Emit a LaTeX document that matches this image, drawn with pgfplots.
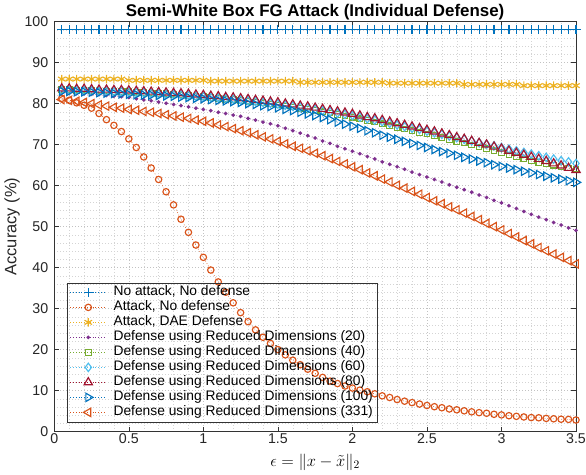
\documentclass[border=0pt]{standalone}
\usepackage{fix-cm}
\usepackage{pgfplots}
\usepackage{pgfplotstable}
\pgfplotsset{compat=1.18}
\usepackage{fontspec}
\setmainfont{Liberation Sans}
\usepackage{amsmath}

\definecolor{cA}{rgb}{0,0.447,0.741}
\definecolor{cB}{rgb}{0.85,0.325,0.098}
\definecolor{cC}{rgb}{0.929,0.694,0.125}
\definecolor{cD}{rgb}{0.494,0.184,0.556}
\definecolor{cE}{rgb}{0.466,0.674,0.188}
\definecolor{cF}{rgb}{0.301,0.745,0.933}
\definecolor{cG}{rgb}{0.635,0.078,0.184}

\pgfplotstableread{
x noatt att dae d20 d40 d60 d80 d100 d331
0.05 98.1 81.3 86.0 82.6 83.4 83.3 83.7 83.0 81.0
0.10 98.1 80.8 86.0 82.5 83.4 83.3 83.7 83.0 80.8
0.15 98.1 80.2 86.0 82.5 83.3 83.2 83.6 82.9 80.6
0.20 98.1 79.6 86.0 82.4 83.3 83.2 83.6 82.9 80.3
0.25 98.1 78.9 86.0 82.3 83.2 83.1 83.5 82.8 80.0
0.30 98.1 77.6 86.0 82.2 83.1 83.0 83.4 82.7 79.7
0.35 98.1 76.1 86.0 82.0 83.1 83.0 83.4 82.6 79.4
0.40 98.1 74.7 86.0 81.8 83.0 82.9 83.3 82.5 79.1
0.45 98.1 73.2 86.0 81.7 83.0 82.9 83.3 82.4 78.9
0.50 98.1 71.4 85.7 81.5 82.9 82.8 83.2 82.3 78.6
0.55 98.1 69.3 85.7 81.2 82.8 82.7 83.1 82.2 78.4
0.60 98.1 67.0 85.7 80.9 82.7 82.6 83.0 82.1 78.1
0.65 98.1 64.3 85.7 80.7 82.6 82.5 82.9 82.1 77.9
0.70 98.1 61.5 85.7 80.4 82.5 82.4 82.8 82.0 77.6
0.75 98.1 58.5 85.7 80.1 82.4 82.3 82.7 81.9 77.3
0.80 98.1 55.3 85.7 79.8 82.3 82.2 82.6 81.8 77.0
0.85 98.1 51.8 85.7 79.5 82.1 82.1 82.5 81.6 76.7
0.90 98.1 48.6 85.7 79.2 82.0 82.0 82.4 81.5 76.4
0.95 98.1 45.5 85.7 78.9 81.8 81.8 82.2 81.3 76.0
1.00 98.1 42.5 85.7 78.6 81.7 81.7 82.1 81.2 75.7
1.05 98.1 39.4 85.5 78.3 81.5 81.5 81.9 81.0 75.3
1.10 98.1 36.5 85.5 77.9 81.3 81.4 81.8 80.8 74.8
1.15 98.1 34.0 85.5 77.6 81.1 81.2 81.6 80.7 74.4
1.20 98.1 31.4 85.5 77.2 81.0 81.1 81.5 80.5 73.9
1.25 98.1 29.0 85.5 76.9 80.8 80.9 81.3 80.3 73.4
1.30 98.1 26.8 85.5 76.4 80.6 80.7 81.1 80.0 72.9
1.35 98.1 24.8 85.5 76.0 80.4 80.5 80.9 79.8 72.4
1.40 98.1 23.0 85.5 75.5 80.2 80.3 80.7 79.5 71.9
1.45 98.1 21.5 85.5 75.1 79.9 80.1 80.5 79.3 71.4
1.50 98.1 20.0 85.5 74.6 79.7 79.9 80.3 79.0 70.8
1.55 98.1 18.7 85.5 74.0 79.4 79.6 80.0 78.6 70.2
1.60 98.1 17.4 85.5 73.4 79.2 79.4 79.8 78.3 69.6
1.65 98.1 16.3 85.2 72.8 78.9 79.1 79.5 77.9 69.1
1.70 98.1 15.2 85.2 72.2 78.6 78.9 79.3 77.5 68.5
1.75 98.1 14.2 85.2 71.6 78.3 78.6 79.0 77.1 67.9
1.80 98.1 13.2 85.2 70.9 78.0 78.3 78.7 76.6 67.3
1.85 98.1 12.3 85.2 70.3 77.7 78.0 78.4 76.1 66.6
1.90 98.1 11.7 85.2 69.6 77.3 77.7 78.1 75.5 65.9
1.95 98.1 11.1 85.2 69.0 77.0 77.4 77.8 75.0 65.3
2.00 98.1 10.6 85.2 68.4 76.7 77.1 77.5 74.5 64.6
2.05 98.1 10.1 85.2 67.8 76.3 76.7 77.1 74.0 63.9
2.10 98.1 9.7 85.2 67.1 75.9 76.3 76.7 73.4 63.1
2.15 98.1 9.2 85.2 66.5 75.5 76.0 76.4 72.9 62.4
2.20 98.1 8.7 85.2 65.8 75.1 75.6 76.0 72.3 61.6
2.25 98.1 8.3 85.0 65.2 74.6 75.2 75.6 71.8 60.9
2.30 98.1 7.8 85.0 64.6 74.2 74.8 75.2 71.3 60.1
2.35 98.1 7.4 85.0 64.0 73.8 74.4 74.8 70.8 59.4
2.40 98.1 7.05 85.0 63.3 73.4 74.0 74.4 70.3 58.6
2.45 98.1 6.7 85.0 62.7 73.0 73.7 74.0 69.8 57.9
2.50 98.1 6.35 85.0 62.1 72.6 73.3 73.6 69.3 57.1
2.55 98.1 6.05 85.0 61.5 72.2 72.9 73.2 68.8 56.3
2.60 98.1 5.8 85.0 60.9 71.7 72.5 72.7 68.3 55.6
2.65 98.1 5.5 85.0 60.2 71.3 72.1 72.3 67.9 54.8
2.70 98.1 5.3 85.0 59.6 70.8 71.7 71.8 67.4 54.1
2.75 98.1 5.05 84.7 59.0 70.4 71.3 71.4 66.9 53.3
2.80 98.1 4.8 84.7 58.4 69.9 70.9 70.9 66.5 52.5
2.85 98.1 4.6 84.7 57.7 69.4 70.5 70.4 66.0 51.7
2.90 98.1 4.45 84.7 57.1 69.0 70.1 70.0 65.6 50.8
2.95 98.1 4.2 84.7 56.4 68.5 69.7 69.5 65.1 50.0
3.00 98.1 4.05 84.7 55.8 68.0 69.3 69.0 64.7 49.2
3.05 98.1 3.85 84.7 55.1 67.5 68.9 68.5 64.3 48.3
3.10 98.1 3.7 84.7 54.4 67.0 68.5 68.0 63.9 47.5
3.15 98.1 3.55 84.4 53.7 66.5 68.1 67.5 63.5 46.6
3.20 98.1 3.4 84.4 53.0 66.0 67.7 67.0 63.1 45.8
3.25 98.1 3.35 84.4 52.3 65.6 67.3 66.5 62.7 44.9
3.30 98.1 3.2 84.4 51.7 65.4 66.9 66.0 62.3 44.1
3.35 98.1 3.1 84.4 51.0 65.0 66.5 65.4 61.9 43.3
3.40 98.1 3.0 84.4 50.4 64.6 66.1 64.9 61.6 42.5
3.45 98.1 2.95 84.4 49.7 64.3 65.8 64.3 61.2 41.7
3.50 98.1 2.8 84.4 49.1 64.0 65.4 63.8 60.8 40.9
}\data

\pgfplotsset{
  ser/.style={line width=0.55pt, dash pattern=on 0.8pt off 2pt, mark options={solid, line width=1.15pt}},
  serR/.style={line width=0.55pt, dash pattern=on 0.8pt off 2pt, mark options={solid, line width=1.15pt, rotate=-90}},
  serL/.style={line width=0.55pt, dash pattern=on 0.8pt off 2pt, mark options={solid, line width=1.15pt, rotate=90}},
}

\begin{document}
\begin{tikzpicture}
\begin{axis}[
  width=521.7pt, height=409.8pt, scale only axis,
  xmin=0, xmax=3.5, ymin=0, ymax=100,
  xtick={0,0.5,1,1.5,2,2.5,3,3.5},
  xticklabels={0,0.5,1,1.5,2,2.5,3,3.5},
  ytick={0,10,...,100},
  minor x tick num=4, minor y tick num=4,
  grid=both,
  major grid style={black!24, dash pattern=on 0.6pt off 2.4pt},
  minor grid style={black!17, dash pattern=on 0.6pt off 2.4pt},
  tick align=inside,
  major tick length=5pt, minor tick length=0pt,
  axis line style={black!80, line width=0.5pt},
  every tick/.style={black!80, line width=0.5pt},
  tick label style={font=\fontsize{14.2}{14.2}\selectfont, text=black!85},
  xticklabel style={yshift=1pt},
  yticklabel style={xshift=-2.5pt},
  /pgf/number format/assume math mode=true,
  clip=false,
  every axis title shift=0pt,
  title={Semi-White Box FG Attack (Individual Defense)},
  title style={font=\fontsize{16.9}{17}\selectfont\bfseries, at={(axis description cs:0.5,1.0134)}, anchor=base},
  xlabel={$\epsilon=\|x-\tilde{x}\|_2$},
  xlabel style={font=\fontsize{16.5}{17}\selectfont, at={(axis description cs:0.5,-0.0842)}, anchor=base},
  ylabel={Accuracy (\%)},
  ylabel style={font=\fontsize{16.5}{17}\selectfont, text=black!85, at={(axis description cs:-0.0725,0.5)}, anchor=base, rotate=0},
  legend cell align=left,
  legend style={at={(0.024,0.023)}, anchor=south west, draw=black!80, fill=none,
    font=\fontsize{13.8}{14}\selectfont, column sep=6pt,
    inner xsep=3pt, inner ysep=2pt,
    nodes={inner sep=1pt, text height=9.8pt, text depth=3.2pt}},
  legend image code/.code={\draw[mark repeat=2,mark phase=2] plot coordinates {(0pt,0pt) (18pt,0pt) (36pt,0pt)};},
]
\addplot[ser, color=cA, mark=+, mark size=4.5pt] table[x=x,y=noatt]{\data};
\addlegendentry{No attack, No defense}
\addplot[ser, color=cB, mark=o, mark size=3.2pt] table[x=x,y=att]{\data};
\addlegendentry{Attack, No defense}
\addplot[ser, color=cC, mark=asterisk, mark size=4.3pt] table[x=x,y=dae]{\data};
\addlegendentry{Attack, DAE Defense}
\addplot[ser, color=cD, mark=*, mark size=1.2pt] table[x=x,y=d20]{\data};
\addlegendentry{Defense using Reduced Dimensions (20)}
\addplot[ser, color=cE, mark=square, mark size=2.8pt] table[x=x,y=d40]{\data};
\addlegendentry{Defense using Reduced Dimensions (40)}
\addplot[ser, color=cF, mark=diamond, mark size=4.2pt] table[x=x,y=d60]{\data};
\addlegendentry{Defense using Reduced Dimensions (60)}
\addplot[ser, color=cG, mark=triangle, mark size=4.8pt] table[x=x,y=d80]{\data};
\addlegendentry{Defense using Reduced Dimensions (80)}
\addplot[serR, color=cA, mark=triangle, mark size=4.8pt] table[x=x,y=d100]{\data};
\addlegendentry{Defense using Reduced Dimensions (100)}
\addplot[serL, color=cB, mark=triangle, mark size=4.8pt] table[x=x,y=d331]{\data};
\addlegendentry{Defense using Reduced Dimensions (331)}
\coordinate (bl) at (rel axis cs:0,0);
\coordinate (tr) at (rel axis cs:1,1);
\end{axis}
\pgfresetboundingbox
\path[use as bounding box] ([xshift=-54.3pt,yshift=-42.5pt]bl) rectangle ([xshift=10pt,yshift=21.7pt]tr);
\end{tikzpicture}
\end{document}
